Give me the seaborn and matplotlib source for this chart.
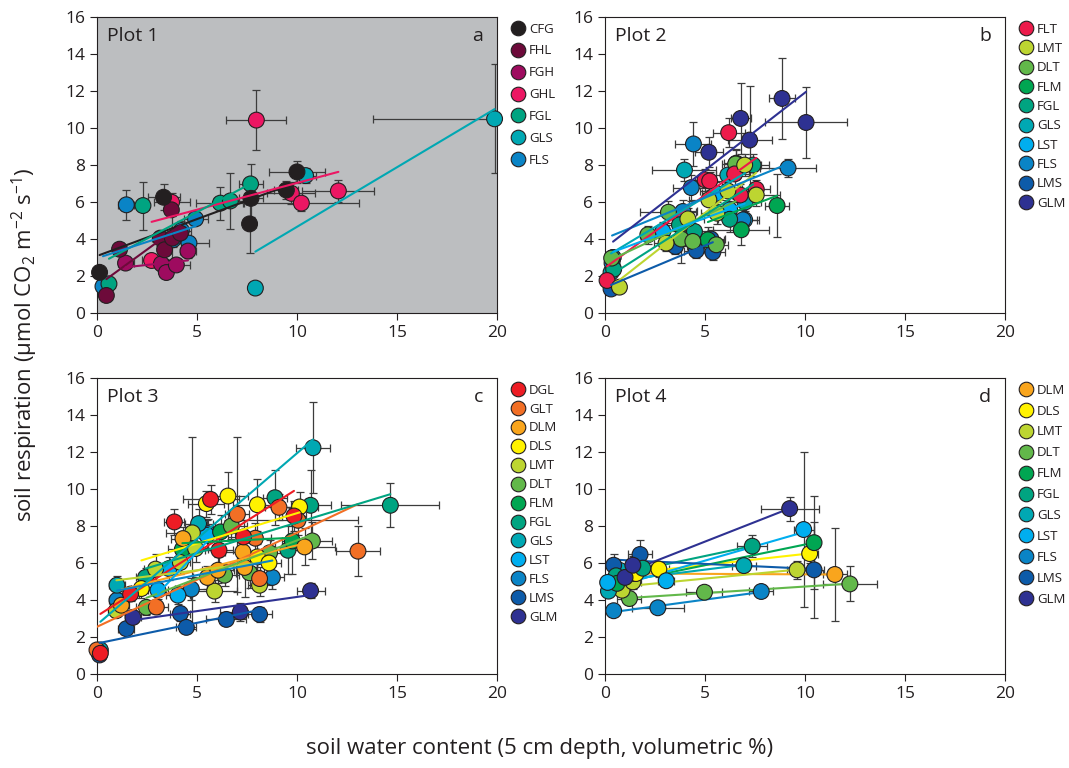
import matplotlib
matplotlib.use('Agg')
import numpy as np
import pandas as pd
import matplotlib.pyplot as plt
from matplotlib.lines import Line2D
import seaborn as sns

# ---- colours per treatment ----
colors = {
    'CFG': '#231F20', 'FHL': '#6D0A3A', 'FGH': '#9E0B5F', 'GHL': '#EC1763',
    'FGL': '#00A481', 'GLS': '#00A8B3', 'FLS': '#0A84C6', 'FLT': '#EC1B4B',
    'LMT': '#BDD531', 'DLT': '#62B84A', 'FLM': '#00A652', 'LST': '#00AEEF',
    'LMS': '#0D5BA9', 'GLM': '#2E3192', 'DGL': '#ED1C24', 'GLT': '#F26F25',
    'DLM': '#F9A51D', 'DLS': '#FFF200',
}

# ---- Plot 1 ----
p1_order = ['CFG', 'FHL', 'FGH', 'GHL', 'FGL', 'GLS', 'FLS']
p1_sp = ['FLS'] * 6 + ['GLS'] * 3 + ['FGL'] * 5 + ['GHL'] * 6 + ['FGH'] * 5 + ['FHL'] * 7 + ['CFG'] * 6
p1_x = [0.3, 1.47, 3.8, 4.22, 4.6, 4.93,
        7.92, 10.43, 19.88,
        0.6, 2.3, 6.17, 6.67, 7.68,
        2.73, 3.73, 7.97, 9.72, 10.22, 12.07,
        1.43, 3.22, 3.47, 3.97, 4.55,
        0.47, 1.13, 3.17, 3.38, 3.77, 4.17, 3.72,
        0.13, 3.33, 7.63, 7.7, 9.47, 10.0]
p1_y = [1.44, 5.85, 3.96, 4.46, 3.78, 5.09,
        1.35, 7.43, 10.5,
        1.58, 5.81, 5.94, 6.06, 6.98,
        2.84, 5.99, 10.43, 6.47, 5.94, 6.6,
        2.7, 2.66, 2.19, 2.6, 3.35,
        0.95, 3.45, 4.05, 3.42, 4.05, 4.32, 5.58,
        2.2, 6.26, 4.82, 6.2, 6.65, 7.63]
p1_xe = [0.2, 0.4, 0.4, 0.5, 1.0, 0.6,
         0.1, 0.5, 6.1,
         0.3, 0.3, 1.2, 0.8, 0.6,
         0.5, 0.9, 1.5, 1.2, 2.9, 1.8,
         0.4, 0.3, 0.3, 0.7, 0.4,
         0.1, 0.3, 0.4, 0.3, 0.4, 0.4, 0.3,
         0.1, 0.8, 0.3, 0.6, 0.6, 1.4]
p1_ye = [0.2, 0.8, 0.4, 0.5, 0.3, 0.3,
         0.3, 0.4, 2.95,
         0.2, 1.3, 0.9, 1.5, 1.1,
         0.3, 0.5, 1.6, 0.6, 0.4, 0.6,
         0.3, 0.4, 0.3, 0.3, 0.4,
         0.2, 0.3, 0.4, 0.5, 1.2, 0.4, 0.3,
         0.1, 0.7, 1.6, 1.0, 0.5, 0.6]

# ---- Plot 2 ----
p2_order = ['FLT', 'LMT', 'DLT', 'FLM', 'FGL', 'GLS', 'LST', 'FLS', 'LMS', 'GLM']
p2_sp = (['GLM'] * 6 + ['GLS'] * 4 + ['LST'] * 5 + ['FLS'] * 6 + ['LMS'] * 5 + ['FLM'] * 4
         + ['FGL'] * 5 + ['DLT'] * 7 + ['FLT'] * 7 + ['LMT'] * 8)
p2_x = [0.4, 5.19, 6.78, 7.23, 8.85, 10.05,
        0.3, 3.97, 6.14, 7.0,
        0.4, 2.89, 5.56, 6.23, 6.98,
        0.35, 3.89, 4.31, 4.42, 6.9, 9.15,
        0.3, 3.52, 4.56, 5.39, 5.3,
        5.14, 6.56, 6.81, 8.6,
        0.43, 3.72, 4.47, 6.23, 7.4,
        0.33, 2.14, 3.17, 3.81, 4.39, 5.56, 6.53,
        0.1, 5.0, 5.23, 6.18, 6.48, 6.76, 7.56,
        0.72, 3.05, 4.14, 5.19, 5.59, 6.14, 6.98, 7.56]
p2_y = [3.0, 8.69, 10.52, 9.35, 11.6, 10.3,
        2.2, 7.73, 7.46, 6.0,
        3.0, 4.41, 6.47, 5.58, 5.04,
        2.7, 5.49, 6.78, 9.14, 5.04, 7.84,
        1.3, 3.6, 3.38, 3.29, 4.0,
        3.96, 8.1, 4.5, 5.81,
        2.37, 4.77, 4.41, 5.07, 8.0,
        2.97, 4.23, 5.45, 4.0, 3.87, 3.69, 8.06,
        1.76, 7.2, 7.14, 9.75, 7.52, 6.38, 6.69,
        1.4, 3.78, 5.09, 6.12, 5.4, 6.6, 8.0, 6.38]
p2_xe = [0.1, 0.7, 0.5, 1.1, 0.65, 2.05,
         0.1, 1.6, 0.6, 0.8,
         0.2, 0.6, 0.7, 0.8, 0.6,
         0.2, 0.7, 0.9, 0.9, 0.8, 1.4,
         0.1, 0.6, 0.6, 0.6, 0.7,
         0.8, 0.6, 1.4, 0.6,
         0.2, 0.6, 0.7, 0.6, 0.8,
         0.2, 0.4, 1.4, 0.7, 0.6, 0.6, 0.7,
         0.1, 0.5, 0.6, 0.8, 0.7, 1.0, 0.7,
         0.2, 0.6, 0.8, 1.0, 0.8, 1.4, 0.8, 1.2]
p2_ye = [0.3, 0.8, 1.9, 2.9, 2.2, 1.9,
         0.3, 0.6, 0.6, 0.7,
         0.3, 0.5, 0.6, 0.5, 0.5,
         0.3, 0.6, 0.7, 1.2, 0.6, 0.5,
         0.2, 0.4, 0.4, 0.4, 0.5,
         0.7, 0.7, 0.8, 1.7,
         0.3, 0.8, 0.6, 0.7, 0.6,
         0.4, 0.5, 0.6, 1.3, 0.6, 0.4, 0.8,
         0.2, 0.6, 0.5, 0.8, 0.6, 0.6, 0.5,
         0.2, 0.4, 0.6, 0.8, 0.6, 0.7, 0.6, 0.6]

# ---- Plot 3 ----
p3_order = ['DGL', 'GLT', 'DLM', 'DLS', 'LMT', 'DLT', 'FLM', 'FGL', 'GLS', 'LST', 'FLS', 'LMS', 'GLM']
p3_sp = (['LMS'] * 6 + ['GLM'] * 3 + ['FLS'] * 4 + ['LST'] * 4 + ['GLS'] * 4 + ['FGL'] * 5
         + ['FLM'] * 3 + ['DLT'] * 6 + ['LMT'] * 7 + ['DLS'] * 7 + ['DLM'] * 7 + ['GLT'] * 8 + ['DGL'] * 7)
p3_x = [0.13, 1.47, 4.17, 4.47, 6.47, 8.13,
        1.8, 7.17, 10.68,
        1.0, 4.72, 5.55, 8.77,
        3.05, 3.6, 4.05, 5.5,
        0.17, 1.0, 5.08, 10.8,
        2.43, 8.9, 9.55, 10.68, 14.67,
        4.27, 6.18, 9.77,
        2.47, 6.38, 6.72, 7.63, 8.63, 10.77,
        0.97, 2.93, 4.17, 4.77, 4.93, 5.88, 8.13,
        2.22, 5.47, 6.55, 8.02, 8.02, 8.6, 10.13,
        1.22, 4.3, 5.52, 6.05, 7.3, 7.38, 10.38,
        0.0, 2.97, 7.02, 7.92, 8.13, 9.1, 10.05, 13.05,
        0.17, 1.68, 3.87, 5.68, 6.1, 7.33, 9.85]
p3_y = [1.03, 2.45, 3.27, 2.52, 2.95, 3.22,
        3.06, 3.35, 4.5,
        3.99, 4.59, 7.59, 5.22,
        4.53, 5.7, 4.26, 7.5,
        1.3, 4.8, 8.13, 12.23,
        5.22, 9.53, 6.69, 9.12, 9.12,
        6.74, 7.68, 7.19,
        3.6, 5.34, 8.0, 5.47, 6.55, 7.19,
        3.42, 5.67, 6.03, 7.63, 6.78, 4.48, 4.8,
        4.62, 9.21, 9.62, 9.15, 6.33, 6.0, 9.03,
        3.72, 7.32, 5.22, 5.61, 6.6, 5.76, 6.87,
        1.3, 3.62, 8.63, 7.34, 5.16, 9.01, 8.31, 6.64,
        1.12, 4.32, 8.22, 9.44, 6.69, 7.41, 8.54]
p3_xe = [0.1, 0.4, 0.5, 0.5, 1.0, 0.6,
         0.4, 1.0, 0.7,
         0.4, 0.8, 0.7, 0.6,
         0.5, 0.6, 0.6, 0.7,
         0.1, 0.4, 0.7, 0.85,
         0.5, 0.6, 0.9, 1.0, 2.45,
         0.7, 0.7, 0.5,
         0.5, 0.7, 0.8, 0.7, 1.0, 1.0,
         0.4, 0.6, 0.5, 1.3, 0.6, 1.1, 0.6,
         0.5, 0.9, 1.0, 1.2, 0.8, 0.6, 0.9,
         0.4, 0.6, 0.7, 0.8, 0.9, 0.6, 1.5,
         0.1, 0.6, 0.6, 0.8, 0.5, 0.7, 3.0, 1.1,
         0.1, 0.4, 0.5, 1.4, 0.7, 0.8, 0.6]
p3_ye = [0.2, 0.3, 0.4, 0.3, 0.3, 0.4,
         0.3, 0.5, 0.4,
         0.4, 0.6, 0.8, 0.6,
         0.5, 0.6, 0.5, 0.8,
         0.2, 0.5, 0.8, 2.45,
         0.5, 1.5, 1.3, 1.9, 1.2,
         0.8, 0.9, 1.8,
         0.4, 0.6, 0.7, 0.8, 0.7, 1.0,
         0.3, 0.8, 0.6, 5.2, 0.7, 0.6, 0.6,
         0.5, 0.7, 1.3, 1.4, 0.7, 0.6, 0.8,
         0.4, 0.6, 0.6, 0.7, 0.8, 1.6, 1.0,
         0.2, 0.4, 4.2, 0.8, 0.6, 0.7, 0.8, 1.35,
         0.2, 0.4, 0.7, 0.8, 0.8, 0.9, 0.8]

# ---- Plot 4 ----
p4_order = ['DLM', 'DLS', 'LMT', 'DLT', 'FLM', 'FGL', 'GLS', 'LST', 'FLS', 'LMS', 'GLM']
p4_sp = (['FLS'] * 3 + ['DLT'] * 3 + ['LMT'] * 3 + ['GLS'] * 3 + ['DLM'] * 2 + ['DLS'] * 3
         + ['LMS'] * 3 + ['FGL'] * 3 + ['FLM'] * 2 + ['LST'] * 3 + ['GLM'] * 3)
p4_x = [0.43, 2.64, 7.81,
        1.22, 4.97, 12.24,
        0.85, 1.39, 9.6,
        0.17, 0.72, 6.94,
        1.47, 11.49,
        1.55, 2.69, 10.23,
        0.43, 1.75, 10.45,
        0.55, 1.89, 7.36,
        0.6, 10.45,
        0.13, 3.06, 9.93,
        1.0, 1.39, 9.23]
p4_y = [3.42, 3.58, 4.46,
        4.08, 4.42, 4.87,
        4.53, 4.98, 5.63,
        4.48, 5.61, 5.86,
        5.43, 5.38,
        5.43, 5.67, 6.51,
        5.88, 6.46, 5.63,
        5.31, 5.72, 6.91,
        4.9, 7.1,
        4.95, 5.04, 7.81,
        5.22, 5.88, 8.94]
p4_xe = [0.2, 1.3, 0.6,
         0.6, 0.9, 1.35,
         0.3, 0.4, 0.5,
         0.2, 0.3, 0.6,
         0.3, 0.6,
         0.3, 0.5, 0.4,
         0.3, 0.6, 0.5,
         0.3, 0.4, 0.75,
         0.3, 0.3,
         0.1, 0.4, 0.5,
         0.3, 0.4, 1.45]
p4_ye = [0.2, 0.2, 0.3,
         0.3, 0.2, 0.95,
         0.3, 0.4, 0.5,
         0.2, 0.3, 0.3,
         0.3, 2.5,
         0.3, 0.4, 0.5,
         0.6, 0.8, 2.6,
         0.3, 0.3, 0.6,
         0.3, 2.5,
         0.2, 0.3, 4.2,
         0.3, 0.5, 0.65]

panels = [
    ('Plot 1', 'a', p1_order, p1_sp, p1_x, p1_y, p1_xe, p1_ye, 0.67),
    ('Plot 2', 'b', p2_order, p2_sp, p2_x, p2_y, p2_xe, p2_ye, 0.48),
    ('Plot 3', 'c', p3_order, p3_sp, p3_x, p3_y, p3_xe, p3_ye, 0.45),
    ('Plot 4', 'd', p4_order, p4_sp, p4_x, p4_y, p4_xe, p4_ye, 0.6),
]

sns.set_style('ticks')
ink = '#231F20'
plt.rcParams['font.family'] = ['Open Sans', 'DejaVu Sans']
plt.rcParams['mathtext.fontset'] = 'custom'
plt.rcParams['mathtext.rm'] = 'Open Sans'
plt.rcParams['mathtext.it'] = 'Open Sans:italic'
plt.rcParams['text.color'] = ink
plt.rcParams['xtick.color'] = ink
plt.rcParams['ytick.color'] = ink

fig = plt.figure(figsize=(10.69, 7.68), dpi=100)
w, h = 0.3742, 0.3854
positions = [(0.0907, 0.5924), (0.566, 0.5924), (0.0907, 0.1224), (0.566, 0.1224)]

for (title, letter, order, sp, x, y, xe, ye, lsp), (l, b) in zip(panels, positions):
    ax = fig.add_axes([l, b, w, h])
    df = pd.DataFrame({'sp': sp, 'x': x, 'y': y, 'xe': xe, 'ye': ye})
    if letter == 'a':
        ax.set_facecolor('#BCBEC0')

    # error bars
    ax.errorbar(df['x'], df['y'], xerr=df['xe'], yerr=df['ye'], fmt='none',
                ecolor='#3C3C3C', elinewidth=0.9, capsize=3, capthick=0.9, zorder=1)
    # regression lines per treatment
    line_z = 2 if letter == 'd' else 4
    for s in order:
        sub = df[df['sp'] == s]
        sns.regplot(data=sub, x='x', y='y', scatter=False, ci=None, truncate=True,
                    color=colors[s], line_kws=dict(lw=1.5, zorder=line_z), ax=ax)
    # points
    sns.scatterplot(data=df, x='x', y='y', hue='sp', palette=colors, s=130,
                    edgecolor=ink, linewidth=0.8, legend=False, zorder=3, ax=ax)
    ax.collections[-1].set_clip_on(False)

    ax.set_xlim(0, 20)
    ax.set_ylim(0, 16)
    ax.set_xticks([0, 5, 10, 15, 20])
    ax.set_yticks(range(0, 17, 2))
    ax.set_xlabel('')
    ax.set_ylabel('')
    ax.tick_params(direction='out', length=5, width=0.8, labelsize=12.5, color=ink)
    for sp_ in ax.spines.values():
        sp_.set_visible(True)
        sp_.set_linewidth(0.8)
        sp_.set_color(ink)

    ax.text(0.025, 0.965, title, transform=ax.transAxes, ha='left', va='top', fontsize=14)
    ax.text(0.965, 0.965, letter, transform=ax.transAxes, ha='right', va='top', fontsize=14)

    handles = [Line2D([], [], marker='o', ls='none', markersize=10.5, markerfacecolor=colors[s],
                      markeredgecolor=ink, markeredgewidth=0.8, label=s) for s in order]
    ax.legend(handles=handles, loc='upper left', bbox_to_anchor=(1.03, 0.99), frameon=False,
              fontsize=9.5, handlelength=1.0, handletextpad=0.3, labelspacing=lsp,
              borderaxespad=0, borderpad=0.2)

fig.text(0.023, 0.551, r'soil respiration (μmol CO$_2$ m$^{-2}$ s$^{-1}$)', rotation=90,
         ha='center', va='center', fontsize=16)
fig.text(0.505, 0.026, 'soil water content (5 cm depth, volumetric %)',
         ha='center', va='center', fontsize=16)

fig.savefig('out.png', dpi=100)
